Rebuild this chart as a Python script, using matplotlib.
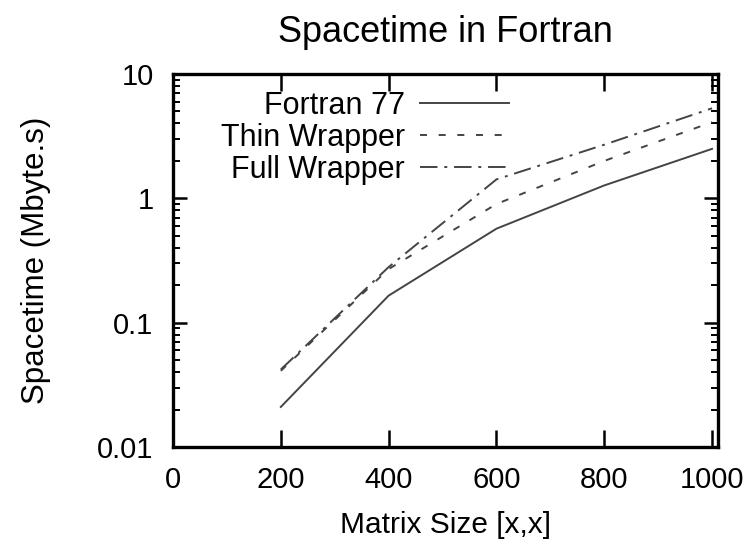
import matplotlib.pyplot as plt
from matplotlib.ticker import FuncFormatter, LogLocator

plt.rcParams['font.family'] = ['Liberation Sans', 'DejaVu Sans']

# matrix sizes and spacetime values (Mbyte.s)
sizes = [200, 400, 600, 800, 1000]
fortran77 = [0.021, 0.165, 0.57, 1.27, 2.5]
thin_wrapper = [0.041, 0.27, 0.9, 2.0, 4.1]
full_wrapper = [0.042, 0.28, 1.42, 2.7, 5.3]

fig = plt.figure(figsize=(7.51, 5.43), dpi=100)
ax = fig.add_axes([173 / 751, 96 / 543, 545 / 751, 373 / 543])

c = '#444444'
ax.plot(sizes, fortran77, color=c, lw=1.4, ls='-', label='Fortran 77')
ax.plot(sizes, thin_wrapper, color=c, lw=1.4, ls=(0, (3.6, 6)), label='Thin Wrapper')
ax.plot(sizes, full_wrapper, color=c, lw=1.4, ls=(0, (9, 3.5, 1.5, 3.5)), label='Full Wrapper')

ax.set_yscale('log')
ax.set_xlim(0, 1011)
ax.set_ylim(0.01, 10)
ax.set_xticks([0, 200, 400, 600, 800, 1000])
ax.yaxis.set_major_locator(LogLocator(base=10))
ax.yaxis.set_major_formatter(FuncFormatter(lambda v, p: '%g' % v))

ax.tick_params(which='both', direction='in', top=True, right=True, labelsize=21)
ax.tick_params(axis='x', which='major', length=12, width=1.8, pad=14)
ax.tick_params(axis='y', which='major', length=10, width=1.8, pad=14)
ax.tick_params(which='minor', length=5, width=1.4)
for s in ax.spines.values():
    s.set_linewidth(2.4)

ax.set_title('Spacetime in Fortran', fontsize=26, pad=23)
ax.set_xlabel('Matrix Size [x,x]', fontsize=21.5, labelpad=12)
ax.set_ylabel('Spacetime (Mbyte.s)', fontsize=22.5, labelpad=33)

ax.legend(loc='upper right', bbox_to_anchor=((509 - 173) / 545, (447 - 91) / 373), frameon=False,
          markerfirst=False, fontsize=22, handlelength=2.9, labelspacing=0.06, handletextpad=0.5,
          borderpad=0, borderaxespad=0)

fig.savefig('out.png', dpi=100)
